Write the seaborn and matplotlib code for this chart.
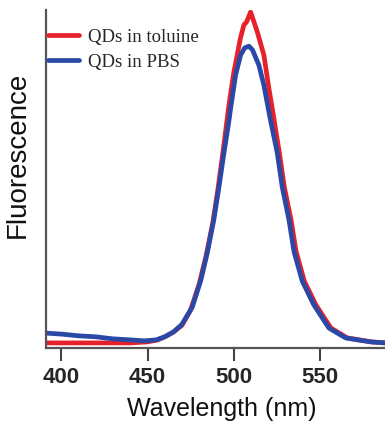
import numpy as np
import pandas as pd
import matplotlib
matplotlib.use("Agg")
import matplotlib.pyplot as plt
import seaborn as sns

# Spectra (wavelength in nm, fluorescence in a.u.)
wl_toluene = [391, 400, 420, 440, 450, 456, 460, 465, 470, 475, 480, 484, 488, 491,
              494, 497.3, 500.2, 504, 506, 507.5, 509.9, 511.5, 513.8, 517.6, 520.5,
              523.4, 526.6, 529.5, 533.4, 536.3, 541.1, 547.9, 556.6, 566, 573, 580, 588]
fl_toluene = [1.5, 1.5, 1.5, 1.5, 1.8, 2.4, 3.3, 4.7, 6.7, 11.2, 18.9, 27.2, 37.3, 47.3,
              58.6, 71.9, 81.7, 91.7, 95.6, 96.4, 99.4, 97.0, 93.5, 86.7, 76.9,
              68.0, 57.7, 47.6, 37.9, 28.6, 19.8, 12.7, 5.9, 3.0, 2.4, 1.8, 1.5]

wl_pbs = [391, 400, 410, 420, 430, 440, 448, 455, 460, 465, 470, 476, 481, 484.7,
          488.5, 491.5, 494.4, 497.3, 498.3, 501.2, 504.1, 506.5, 508.9, 511, 514.7,
          517.6, 521, 525.4, 528.3, 532.2, 535.1, 539.9, 546.7, 555.4, 565, 572, 580, 588]
fl_pbs = [4.4, 4.1, 3.6, 3.3, 2.7, 2.4, 2.1, 2.4, 3.3, 4.7, 7.0, 12.1, 20.1, 28.1,
          37.9, 47.6, 57.7, 67.2, 71.0, 80.8, 86.7, 88.8, 89.3, 88.2, 83.7,
          77.8, 68.6, 57.7, 47.6, 37.9, 28.6, 19.8, 12.7, 5.9, 3.0, 2.4, 1.8, 1.5]

labels = ["QDs in toluine", "QDs in PBS"]
colors = ["#e5222b", "#2a48a6"]
xticks = [400, 450, 500, 550]

df = pd.concat([
    pd.DataFrame({"wavelength": wl_toluene, "fluorescence": fl_toluene, "sample": labels[0]}),
    pd.DataFrame({"wavelength": wl_pbs, "fluorescence": fl_pbs, "sample": labels[1]}),
])

sns.set_style("white")
plt.rcParams['font.family'] = ['Liberation Sans', 'DejaVu Sans']

fig = plt.figure(figsize=(3.85, 4.22), dpi=100)
ax = fig.add_axes([0.1195, 0.1754, 0.8805, 0.8009])

sns.lineplot(data=df, x="wavelength", y="fluorescence", hue="sample",
             palette=dict(zip(labels, colors)), estimator=None, linewidth=3.4, ax=ax)

ax.set_xlim(391, 588)
ax.set_ylim(0, 100)
ax.set_xticks(xticks)
ax.set_xticklabels([str(t) for t in xticks], fontweight="bold", fontsize=16)
ax.set_yticks([])
ax.tick_params(axis="x", direction="out", length=9.5, width=1.5, color="#444444",
               pad=4, bottom=True)

for side in ["top", "right"]:
    ax.spines[side].set_visible(False)
for side in ["left", "bottom"]:
    ax.spines[side].set_color("#555555")
    ax.spines[side].set_linewidth(1.6)

ax.set_xlabel("Wavelength (nm)", fontsize=18, color="#111111")
ax.set_ylabel("Fluorescence", fontsize=20, color="#111111")
ax.xaxis.set_label_coords(0.519, -0.145)
ax.yaxis.set_label_coords(-0.045, 0.571)

handles, _ = ax.get_legend_handles_labels()
ax.legend(handles, labels, loc="upper left", bbox_to_anchor=(0.006, 0.944),
          frameon=False, borderpad=0, borderaxespad=0, handlelength=1.65,
          handletextpad=0.5, labelspacing=0.42,
          prop={"family": "Liberation Serif", "size": 13.5})

fig.savefig("out.png", dpi=100)
